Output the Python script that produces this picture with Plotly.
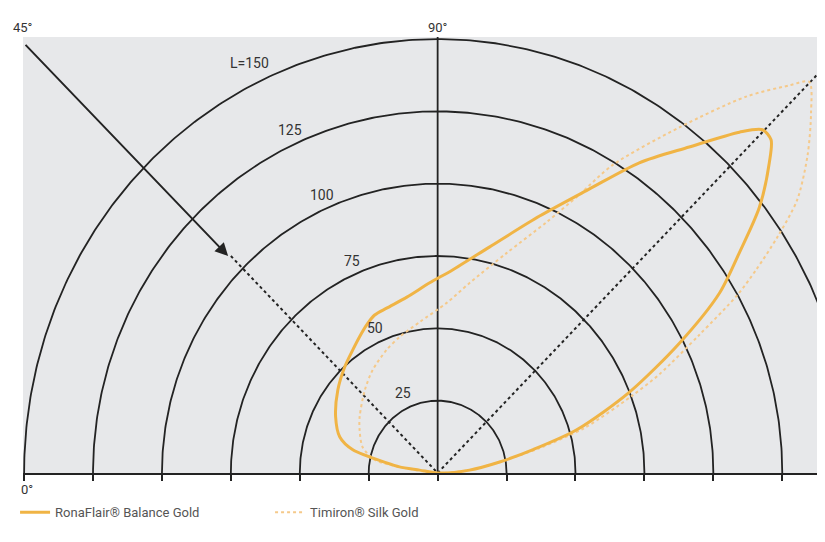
import numpy as np
import plotly.graph_objects as go

# lightness circles (L units)
radii = [25, 50, 75, 100, 125, 150]
circle_labels = ["25", "50", "75", "100", "125", "L=150"]

# RonaFlair Balance Gold: viewing angle (deg) and lightness L
rona_angle = [180, 171.3, 171.3, 169.3, 165.4, 160.7, 152.3, 141.6, 132.6, 125.9, 121.1,
              116.7, 112.7, 108.0, 100.4, 92.5, 85.6, 76.5, 67.4, 60.7, 55.7, 51.0,
              47.1, 45.2, 43.6, 41.7, 38.2, 34.8, 31.3, 27.1, 21.9, 16.5,
              13.1, 9.6, 4.9, 0]
rona_L = [0, 6.6, 14.0, 18.8, 31.8, 37.6, 41.8, 46.2, 49.8, 52.5, 54.9,
          57.3, 59.2, 59.9, 61.8, 65.8, 70.4, 80.3, 96.2, 112.6, 129.8, 145.0,
          160.8, 167.2, 167.0, 161.1, 148.5, 133.2, 119.6, 98.5, 75.0, 52.6,
          35.3, 22.8, 11.6, 0]

# Timiron Silk Gold
timi_angle = [180, 171.3, 168.8, 161.7, 152.2, 145.6, 132.6, 123.5, 113.5, 106.4, 97.1,
              86.8, 80.0, 71.8, 65.5, 61.9, 59.2, 53.7, 49.3, 46.4, 45.1, 42.6,
              39.3, 35.9, 33.5, 31.3, 29.5, 26.7, 23.0, 20.7, 16.3, 13.1, 9.6, 4.9, 0]
timi_L = [0, 14.0, 23.2, 28.7, 32.0, 34.3, 39.0, 42.7, 46.4, 49.0, 52.6,
          58.9, 66.7, 80.0, 95.3, 109.0, 123.9, 148.3, 171.6, 185.0, 190.9, 184.0,
          173.4, 161.0, 147.8, 135.2, 124.9, 106.2, 87.4, 75.2, 55.5, 38.0, 22.8, 11.6, 0]

GRID = "#232323"
GOLD = "#f0b445"
GOLD_LIGHT = "#f5c98a"
FONT = "Roboto"


def to_xy(angle, L):
    a = np.radians(np.asarray(angle, dtype=float))
    L = np.asarray(L, dtype=float)
    return L * np.cos(a), L * np.sin(a)


fig = go.Figure()

theta = np.linspace(0, np.pi, 361)
for r in radii:
    fig.add_trace(go.Scatter(
        x=r * np.cos(theta), y=r * np.sin(theta), mode="lines",
        line=dict(color=GRID, width=1.8), hoverinfo="skip", showlegend=False,
    ))

# vertical 90 deg line
fig.add_trace(go.Scatter(x=[0, 0], y=[0, 151], mode="lines",
                         line=dict(color=GRID, width=1.8), showlegend=False, hoverinfo="skip"))
# 45 deg dotted lines
fig.add_trace(go.Scatter(x=[-75, 0], y=[75, 0], mode="lines",
                         line=dict(color=GRID, width=2, dash="dot"), showlegend=False, hoverinfo="skip"))
fig.add_trace(go.Scatter(x=[0, 160], y=[0, 160], mode="lines",
                         line=dict(color=GRID, width=2, dash="dot"), showlegend=False, hoverinfo="skip"))

tx, ty = to_xy(timi_angle, timi_L)
fig.add_trace(go.Scatter(
    x=tx, y=ty, mode="lines", name="Timiron® Silk Gold",
    line=dict(color=GOLD_LIGHT, width=2, dash="dot", shape="spline", smoothing=0.8),
))
rx, ry = to_xy(rona_angle, rona_L)
fig.add_trace(go.Scatter(
    x=rx, y=ry, mode="lines", name="RonaFlair® Balance Gold",
    line=dict(color=GOLD, width=3, shape="spline", smoothing=0.8),
))

label_pos = [(-12.7, 27.7), (-22.8, 50.1), (-31.2, 73.3), (-42, 96.1), (-53.6, 118.6), (-68.1, 141.7)]
for (lx, ly), txt in zip(label_pos, circle_labels):
    fig.add_annotation(x=lx, y=ly, text=txt, showarrow=False,
                       font=dict(family=FONT, size=14, color="#333"))

# incident light arrow
fig.add_annotation(x=-76, y=75, ax=-150, ay=148.5, xref="x", yref="y", axref="x", ayref="y",
                   showarrow=True, arrowhead=2, arrowsize=1.3, arrowwidth=2, arrowcolor=GRID, text="")

fig.add_annotation(x=0, y=1.0, xref="paper", yref="paper", text="45°", showarrow=False,
                   xanchor="center", yanchor="bottom", font=dict(family=FONT, size=13, color="#333"))
fig.add_annotation(x=0, y=1.0, xref="x", yref="paper", text="90°", showarrow=False,
                   xanchor="center", yanchor="bottom", font=dict(family=FONT, size=13, color="#333"))
fig.add_annotation(x=-149, y=-0.015, xref="x", yref="paper", text="0°", showarrow=False,
                   xanchor="center", yanchor="top", font=dict(family=FONT, size=13, color="#333"))

fig.update_xaxes(range=[-150.4, 137.6], showgrid=False, zeroline=False,
                 tickvals=[-150, -125, -100, -75, -50, -25, 0, 25, 50, 75, 100, 125],
                 showticklabels=False, ticks="outside", ticklen=6, tickwidth=2, tickcolor=GRID,
                 showline=True, linecolor=GRID, linewidth=2)
fig.update_yaxes(range=[0, 150.7], showgrid=False, zeroline=False, showticklabels=False)

# the page body adds an 8px margin, so the figure is sized to fit the window without scrollbars
fig.update_layout(
    width=809, height=526,
    margin=dict(l=15, r=0, t=29, b=61),
    plot_bgcolor="#e7e8ea", paper_bgcolor="white",
    font=dict(family=FONT, size=13, color="#555"),
    legend=dict(orientation="h", x=-0.01, y=-0.09, xanchor="left", yanchor="middle",
                traceorder="reversed", entrywidth=210, font=dict(size=13, color="#555"),
                bgcolor="rgba(0,0,0,0)"),
)

fig.write_html("out.html")
